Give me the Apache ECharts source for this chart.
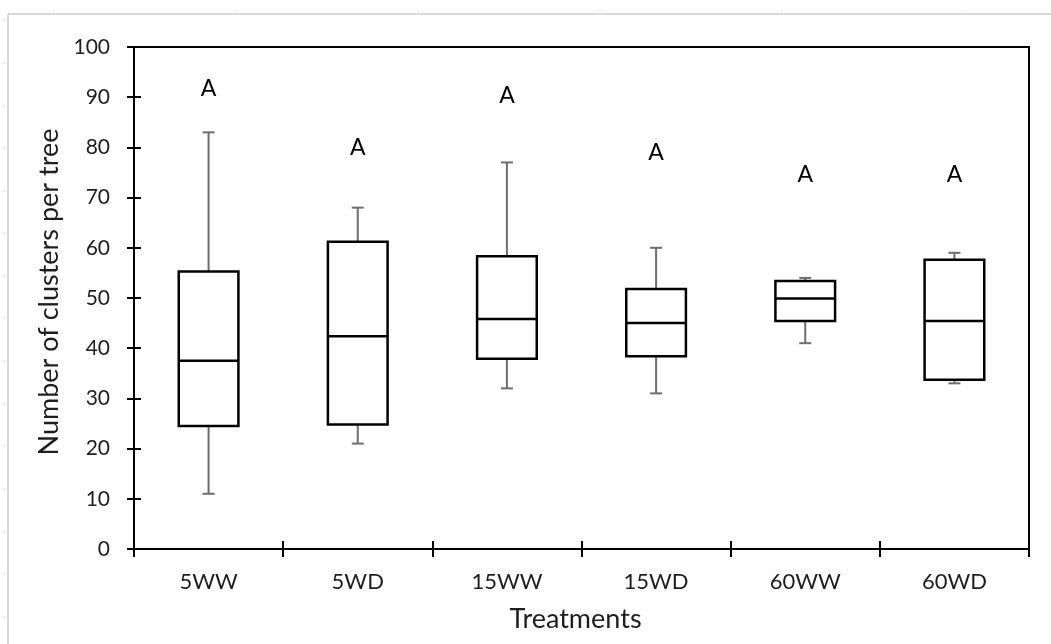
<!DOCTYPE html>
<html>
<head>
<meta charset="utf-8">
<script src="https://cdn.jsdelivr.net/npm/echarts@6/dist/echarts.min.js"></script>
<style>
html,body{margin:0;padding:0;background:#fff;}
#chart{width:1051px;height:644px;}
</style>
</head>
<body>
<div id="chart"></div>
<script>
const categories = ['5WW', '5WD', '15WW', '15WD', '60WW', '60WD'];
const whiskerLow = [11, 21, 32, 31, 41, 33];
const q1 = [24.5, 24.8, 37.9, 38.4, 45.4, 33.7];
const median = [37.5, 42.4, 45.8, 45, 49.9, 45.4];
const q3 = [55.3, 61.2, 58.3, 51.8, 53.4, 57.6];
const whiskerHigh = [83, 68, 77, 60, 54, 59];
const letters = ['A', 'A', 'A', 'A', 'A', 'A'];
const letterY = [91.7, 80, 90.4, 79, 74.5, 74.5];
const yTicks = [0, 10, 20, 30, 40, 50, 60, 70, 80, 90, 100];

const FONT = 'Lato';
const TXT = '#1e1e1e';
const boxData = categories.map((c, i) => [i, whiskerLow[i], q1[i], median[i], q3[i], whiskerHigh[i]]);
const letterData = categories.map((c, i) => [i, letterY[i], letters[i]]);

function renderBox(params, api) {
  const i = api.value(0);
  const pLo = api.coord([i, api.value(1)]);
  const pQ1 = api.coord([i, api.value(2)]);
  const pMed = api.coord([i, api.value(3)]);
  const pQ3 = api.coord([i, api.value(4)]);
  const pHi = api.coord([i, api.value(5)]);
  const bw = api.size([1, 0])[0] * 0.4;
  const cap = 12;
  const x = pQ1[0];
  const gray = {stroke: '#6e6e6e', lineWidth: 2};
  const blk = {stroke: '#000', lineWidth: 2.5, fill: 'none'};
  return {
    type: 'group',
    children: [
      {type: 'line', shape: {x1: x, y1: pQ3[1], x2: x, y2: pHi[1]}, style: gray},
      {type: 'line', shape: {x1: x - cap / 2, y1: pHi[1], x2: x + cap / 2, y2: pHi[1]}, style: gray},
      {type: 'line', shape: {x1: x, y1: pQ1[1], x2: x, y2: pLo[1]}, style: gray},
      {type: 'line', shape: {x1: x - cap / 2, y1: pLo[1], x2: x + cap / 2, y2: pLo[1]}, style: gray},
      {type: 'rect', shape: {x: x - bw / 2, y: pQ3[1], width: bw, height: pQ1[1] - pQ3[1]}, style: blk},
      {type: 'line', shape: {x1: x - bw / 2, y1: pMed[1], x2: x + bw / 2, y2: pMed[1]}, style: {stroke: '#000', lineWidth: 2.5}}
    ]
  };
}

function renderLetter(params, api) {
  const i = api.value(0);
  const p = api.coord([i, api.value(1)]);
  return {
    type: 'text',
    style: {
      x: p[0], y: p[1], text: letters[i], align: 'center', verticalAlign: 'middle',
      font: '23px ' + FONT, fill: '#000'
    }
  };
}

// faint spreadsheet frame decoration
const gridDeco = [];
gridDeco.push({type: 'line', shape: {x1: 8, y1: 14, x2: 1051, y2: 14}, style: {stroke: '#dadada', lineWidth: 2}, silent: true});
gridDeco.push({type: 'line', shape: {x1: 8, y1: 14, x2: 8, y2: 644}, style: {stroke: '#dadada', lineWidth: 2}, silent: true});
[54, 236, 418, 600, 782, 963].forEach(x => gridDeco.push({type: 'line', shape: {x1: x, y1: 10, x2: x, y2: 14}, style: {stroke: '#e2e2e2', lineWidth: 1}, silent: true}));
[20, 63, 106, 148, 191, 233, 276, 318, 361, 404, 446, 489, 532, 574, 617].forEach(y => gridDeco.push({type: 'line', shape: {x1: 2, y1: y, x2: 8, y2: y}, style: {stroke: '#e2e2e2', lineWidth: 1}, silent: true}));

const chart = echarts.init(document.getElementById('chart'), null, {renderer: 'canvas'});
chart.setOption({
  animation: false,
  backgroundColor: '#fff',
  graphic: gridDeco,
  grid: {left: 134, right: 22, top: 47, bottom: 95, show: true, borderColor: '#000', borderWidth: 2, backgroundColor: 'transparent'},
  xAxis: [{
    type: 'category', data: categories, position: 'bottom',
    axisLine: {lineStyle: {color: '#000', width: 2}},
    axisTick: {show: true, alignWithLabel: false, length: 8, lineStyle: {color: '#000', width: 2}},
    axisLabel: {color: TXT, fontFamily: FONT, fontSize: 22, margin: 22},
    name: 'Treatments', nameLocation: 'middle', nameGap: 57,
    nameTextStyle: {color: TXT, fontFamily: FONT, fontSize: 27, padding: [0, 12, 0, 0]},
    splitLine: {show: false}
  }, {
    type: 'category', data: categories, position: 'bottom',
    axisLine: {show: false},
    axisTick: {show: true, inside: true, length: 8, lineStyle: {color: '#000', width: 2}},
    axisLabel: {show: false},
    splitLine: {show: false}
  }],
  yAxis: [{
    type: 'value', min: 0, max: 100, interval: 10,
    axisLine: {show: true, lineStyle: {color: '#000', width: 2}},
    axisTick: {show: true, length: 7, lineStyle: {color: '#000', width: 2}},
    axisLabel: {color: TXT, fontFamily: FONT, fontSize: 21, margin: 24,
      formatter: v => yTicks.includes(v) ? String(v) : ''},
    splitLine: {show: false},
    name: 'Number of clusters per tree', nameLocation: 'middle', nameGap: 71,
    nameTextStyle: {color: TXT, fontFamily: FONT, fontSize: 27, padding: [0, 0, 0, 12]}
  }, {
    type: 'value', min: 0, max: 100, interval: 10, position: 'left',
    axisLine: {show: false},
    axisTick: {show: true, inside: true, length: 7, lineStyle: {color: '#000', width: 2}},
    axisLabel: {show: false},
    splitLine: {show: false}
  }],
  series: [{
    type: 'custom', xAxisIndex: 0, yAxisIndex: 0,
    renderItem: renderBox, data: boxData,
    encode: {x: 0, y: [1, 2, 3, 4, 5]}, z: 5
  }, {
    type: 'custom', xAxisIndex: 0, yAxisIndex: 0,
    renderItem: renderLetter, data: letterData,
    encode: {x: 0, y: 1}, z: 6
  }]
});
</script>
</body>
</html>
